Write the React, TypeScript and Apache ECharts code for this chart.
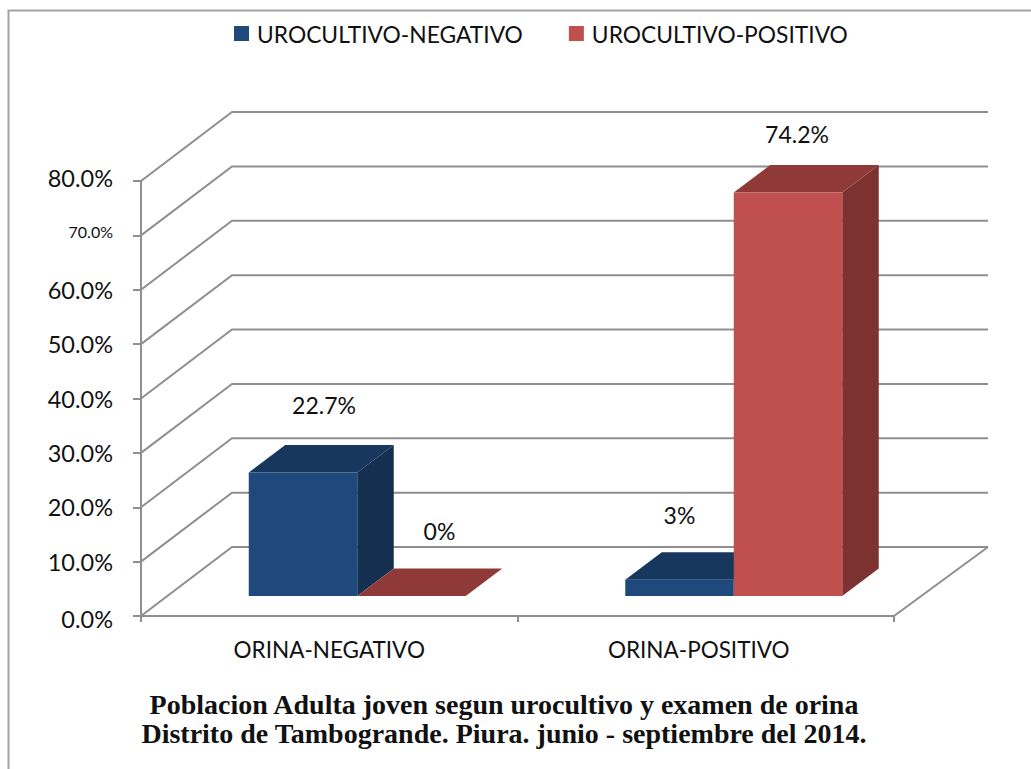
import React, { useEffect, useRef } from "react";
import * as echarts from "echarts";

const categories = ["ORINA-NEGATIVO", "ORINA-POSITIVO"];
const negativeValues = [22.7, 3];
const positiveValues = [0, 74.2];
const negativeLabels = ["22.7%", "3%"];
const positiveLabels = ["0%", "74.2%"];
const tickValues = [0, 10, 20, 30, 40, 50, 60, 70, 80];
const seriesNames = ["UROCULTIVO-NEGATIVO", "UROCULTIVO-POSITIVO"];
const titleLines = [
  "Poblacion Adulta joven segun urocultivo y examen de orina",
  "Distrito de Tambogrande. Piura. junio - septiembre del 2014.",
];

const SANS = "Lato";
const GRID_COLOR = "#8f8f8f";
const WALL_DX = 91;
const WALL_DY = -69;
const BAR_W = 108.5;
const BAR_DX = 36.5;
const BAR_DY = -27.5;
const BASE_DX = 28;
const BASE_DY = -20;

const blueFaces = { front: "#1f497d", top: "#17375e", side: "#152f50" };
const redFaces = { front: "#c0504d", top: "#8f3a38", side: "#7c3231" };

const labelOffsetsBlue = [
  [21, -68],
  [0, -65],
];
const labelOffsetsRed = [
  [28, -65],
  [9, -59],
];

function wallRender(params: any, api: any) {
  const v = api.value(0);
  const cs = params.coordSys;
  const y = api.coord([0, v])[1];
  const left = cs.x;
  const right = cs.x + cs.width;
  const children: any[] = [
    {
      type: "polyline",
      shape: {
        points: [
          [left, y],
          [left + WALL_DX, y + WALL_DY],
          [right + WALL_DX + 3, y + WALL_DY],
        ],
      },
      style: { stroke: GRID_COLOR, lineWidth: 2, fill: "none" },
    },
  ];
  if (v === 0) {
    children.push({
      type: "line",
      shape: { x1: right, y1: y, x2: right + WALL_DX + 3, y2: y + WALL_DY },
      style: { stroke: GRID_COLOR, lineWidth: 2 },
    });
  }
  return { type: "group", children };
}

function barRender(
  faces: typeof blueFaces,
  side: "left" | "right",
  labels: string[],
  offsets: number[][]
) {
  return (params: any, api: any) => {
    const idx = api.value(0);
    const val = api.value(1);
    const centre = api.coord([idx, 0]);
    const topPt = api.coord([idx, val]);
    const x0 = centre[0] + BASE_DX + (side === "left" ? -BAR_W : 0);
    const x1 = x0 + BAR_W;
    const yb = centre[1] + BASE_DY;
    const yt = topPt[1] + BASE_DY;
    const poly = (points: number[][], fill: string) => ({
      type: "polygon",
      shape: { points },
      style: { fill },
    });
    return {
      type: "group",
      children: [
        poly(
          [
            [x1, yb],
            [x1 + BAR_DX, yb + BAR_DY],
            [x1 + BAR_DX, yt + BAR_DY],
            [x1, yt],
          ],
          faces.side
        ),
        poly(
          [
            [x0, yt],
            [x1, yt],
            [x1 + BAR_DX, yt + BAR_DY],
            [x0 + BAR_DX, yt + BAR_DY],
          ],
          faces.top
        ),
        poly(
          [
            [x0, yb],
            [x1, yb],
            [x1, yt],
            [x0, yt],
          ],
          faces.front
        ),
        {
          type: "text",
          x: (x0 + x1) / 2 + offsets[idx][0],
          y: yt + offsets[idx][1],
          style: {
            text: labels[idx],
            fill: "#111111",
            font: `23px ${SANS}`,
            textAlign: "center",
            textVerticalAlign: "middle",
          },
        },
      ],
    };
  };
}

function yLabel(v: number) {
  const text = `${v.toFixed(1)}%`;
  if (v === 80) return `{up|${text}}`;
  if (v === 70) return `{s|${text}}`;
  if (v === 0) return `{down|${text}}`;
  return `{n|${text}}`;
}

export default function App() {
  const ref = useRef<HTMLDivElement>(null);
  useEffect(() => {
    const chart = echarts.init(ref.current!, undefined, { renderer: "svg" });
    const yBase = { fontFamily: SANS, fontSize: 23.5, color: "#111111" };
    chart.setOption({
      animation: false,
      backgroundColor: "#ffffff",
      title: {
        text: titleLines.join("\n"),
        left: 499,
        top: 685,
        textAlign: "center",
        textStyle: {
          fontFamily: "Liberation Serif",
          fontWeight: "bold",
          fontSize: 28,
          lineHeight: 29,
          color: "#111111",
        },
      },
      legend: {
        data: seriesNames,
        left: 229,
        top: 17,
        icon: "rect",
        itemWidth: 15,
        itemHeight: 15,
        itemGap: 46,
        selectedMode: false,
        textStyle: { fontFamily: SANS, fontSize: 22.8, color: "#111111", padding: [0, 0, 0, 3] },
      },
      grid: { left: 141, right: 137, top: 181, bottom: 153 },
      xAxis: {
        type: "category",
        data: categories,
        axisLine: { lineStyle: { color: GRID_COLOR, width: 2 } },
        axisTick: { show: true, length: 6, alignWithLabel: false, lineStyle: { color: GRID_COLOR, width: 2 } },
        axisLabel: {
          margin: 22,
          formatter: (v: string, i: number) => (i === 1 ? `{b|${v}}` : `{a|${v}}`),
          rich: {
            a: { fontFamily: SANS, fontSize: 22.5, color: "#111111" },
            b: { fontFamily: SANS, fontSize: 22.5, color: "#111111", padding: [0, 14, 0, 0] },
          },
        },
      },
      yAxis: {
        type: "value",
        min: 0,
        max: 80,
        interval: 10,
        splitLine: { show: false },
        axisLine: { show: true, lineStyle: { color: GRID_COLOR, width: 2 } },
        axisTick: { show: true, length: 8, lineStyle: { color: GRID_COLOR, width: 2 } },
        axisLabel: {
          margin: 28,
          formatter: yLabel,
          rich: {
            n: yBase,
            up: { ...yBase, padding: [0, 0, 6, 0] },
            down: { ...yBase, padding: [6, 0, 0, 0] },
            s: { fontFamily: SANS, fontSize: 16, color: "#111111", padding: [0, 0, 8, 0] },
          },
        },
      },
      series: [
        {
          type: "custom",
          name: "wall",
          coordinateSystem: "cartesian2d",
          renderItem: wallRender,
          data: tickValues.map((v) => [v]),
          encode: { y: 0 },
          silent: true,
          clip: false,
          z: 1,
        },
        {
          type: "custom",
          name: seriesNames[0],
          coordinateSystem: "cartesian2d",
          itemStyle: { color: blueFaces.front },
          renderItem: barRender(blueFaces, "left", negativeLabels, labelOffsetsBlue),
          data: negativeValues.map((v, i) => [i, v]),
          encode: { x: 0, y: 1 },
          clip: false,
          z: 2,
        },
        {
          type: "custom",
          name: seriesNames[1],
          coordinateSystem: "cartesian2d",
          itemStyle: { color: redFaces.front },
          renderItem: barRender(redFaces, "right", positiveLabels, labelOffsetsRed),
          data: positiveValues.map((v, i) => [i, v]),
          encode: { x: 0, y: 1 },
          clip: false,
          z: 3,
        },
      ],
      graphic: [
        {
          type: "polyline",
          silent: true,
          shape: { points: [[8.5, 769], [8.5, 10.5], [1031, 10.5]] },
          style: { fill: "none", stroke: "#a3a3a3", lineWidth: 2 },
        },
      ],
    });
    return () => chart.dispose();
  }, []);
  return (
    <div
      ref={ref}
      style={{ position: "fixed", left: 0, top: 0, width: 1031, height: 769 }}
    />
  );
}
